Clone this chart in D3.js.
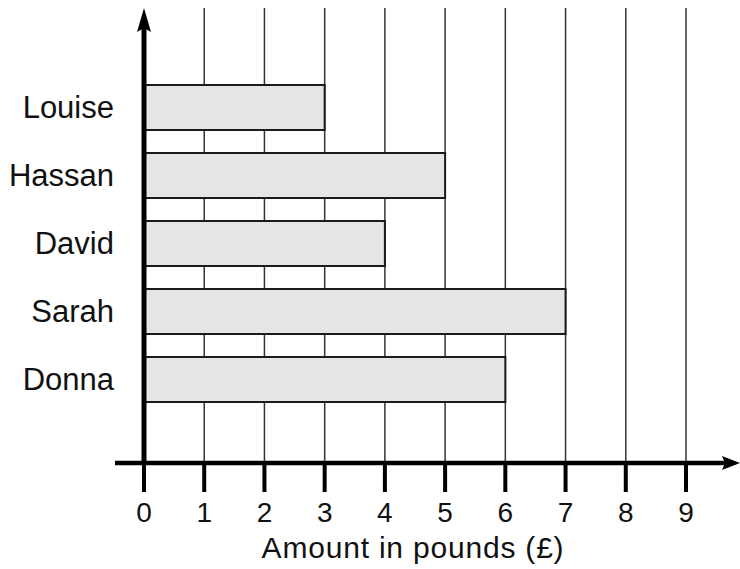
<!DOCTYPE html>
<html>
<head>
<meta charset="utf-8">
<script src="https://cdn.jsdelivr.net/npm/d3@7"></script>
<style>
  html, body { margin: 0; padding: 0; background: #fff; }
  svg { display: block; font-family: "Liberation Sans", Arial, Helvetica, sans-serif; }
</style>
</head>
<body>
<svg id="chart" width="740" height="569"></svg>
<script>
// Pocket money per person, in pounds
const names = ["Louise", "Hassan", "David", "Sarah", "Donna"];
const amounts = [3, 5, 4, 7, 6];
const tickValues = [0, 1, 2, 3, 4, 5, 6, 7, 8, 9];
const xTitle = "Amount in pounds (£)";

const svg = d3.select("#chart");

const x = d3.scaleLinear().domain([0, 9]).range([144, 686]);
const y = d3.scaleBand().domain(names).range([73.5, 413.5])
  .paddingInner(0.338).paddingOuter(0.169);

const axisY = 463;
const gridTop = 8;

// vertical grid lines at each whole pound
svg.append("g").selectAll("line")
  .data(tickValues.filter(d => d > 0))
  .join("line")
  .attr("x1", d => x(d)).attr("x2", d => x(d))
  .attr("y1", gridTop).attr("y2", axisY)
  .attr("stroke", "#333").attr("stroke-width", 1.5);

// bars
svg.append("g").selectAll("rect")
  .data(names.map((n, i) => ({ name: n, value: amounts[i] })))
  .join("rect")
  .attr("x", x(0))
  .attr("y", d => y(d.name))
  .attr("width", d => x(d.value) - x(0))
  .attr("height", y.bandwidth())
  .attr("fill", "#e5e5e5")
  .attr("stroke", "#1a1a1a")
  .attr("stroke-width", 2);

// category labels
svg.append("g").selectAll("text")
  .data(names)
  .join("text")
  .attr("x", 114)
  .attr("y", d => y(d) + y.bandwidth() / 2)
  .attr("dy", "0.35em")
  .attr("text-anchor", "end")
  .attr("font-size", 31)
  .attr("fill", "#111")
  .text(d => d);

// x axis line with arrow
svg.append("line")
  .attr("x1", 115).attr("x2", 728)
  .attr("y1", axisY).attr("y2", axisY)
  .attr("stroke", "#000").attr("stroke-width", 4.5);
svg.append("path")
  .attr("d", `M740,${axisY} L722,${axisY - 7} L725,${axisY} L722,${axisY + 7} Z`)
  .attr("fill", "#000");

// y axis line with arrow
svg.append("line")
  .attr("x1", x(0)).attr("x2", x(0))
  .attr("y1", 26).attr("y2", axisY)
  .attr("stroke", "#000").attr("stroke-width", 5);
svg.append("path")
  .attr("d", `M${x(0)},8 L${x(0) - 7},32 L${x(0)},28 L${x(0) + 7},32 Z`)
  .attr("fill", "#000");

// ticks and tick labels
const ticks = svg.append("g").selectAll("g")
  .data(tickValues)
  .join("g")
  .attr("transform", d => `translate(${x(d)},0)`);
ticks.append("line")
  .attr("y1", axisY).attr("y2", 492)
  .attr("stroke", "#000").attr("stroke-width", 4);
ticks.append("text")
  .attr("y", 522)
  .attr("text-anchor", "middle")
  .attr("font-size", 28)
  .attr("fill", "#111")
  .text(d => d);

// axis title
svg.append("text")
  .attr("x", 413)
  .attr("y", 558)
  .attr("text-anchor", "middle")
  .attr("font-size", 30)
  .attr("letter-spacing", 0.8)
  .attr("fill", "#111")
  .text(xTitle);
</script>
</body>
</html>
